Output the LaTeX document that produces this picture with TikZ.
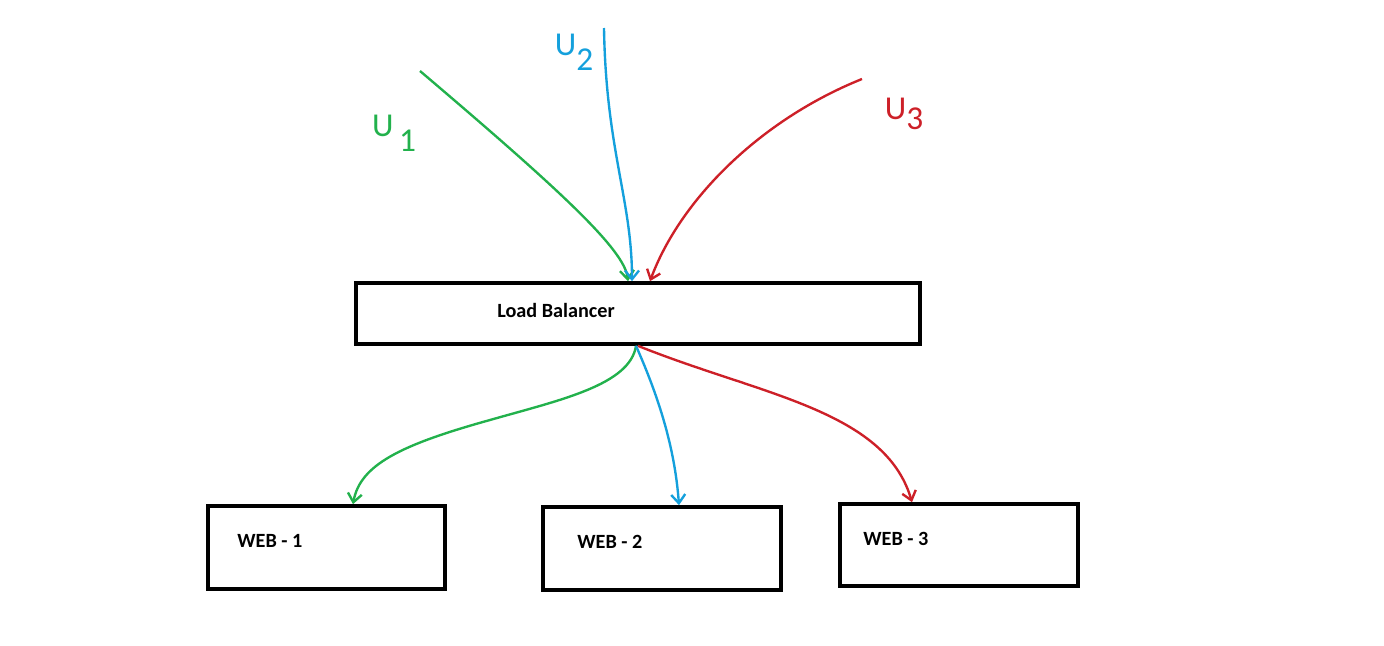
\documentclass[tikz,border=0pt]{standalone}
\usepackage{fontspec}
\setmainfont{Carlito}
\usetikzlibrary{arrows.meta, positioning}

\definecolor{paintgreen}{RGB}{34,177,76}
\definecolor{paintblue}{RGB}{20,160,220}
\definecolor{paintred}{RGB}{205,32,40}

\begin{document}
\begin{tikzpicture}[
    x=0.02cm, y=-0.02cm,
    box/.style={draw, rectangle, line width=2.1pt, inner sep=0pt},
    boxtext/.style={anchor=west, inner sep=0pt, font=\fontsize{11.5}{13}\selectfont\bfseries},
    user label/.style={inner sep=0pt, font=\fontsize{19}{21}\selectfont},
    flow/.style={line width=1.35pt, -{Straight Barb[length=5pt, width=8pt]}}
]
\useasboundingbox (0,0) rectangle (1384,646);

% Nodes
\node[box, minimum width=11.28cm, minimum height=1.22cm] (lb) at (638,313.5) {};
\node[boxtext] (lbtext) at (497,310) {Load Balancer};

\node[box, minimum width=4.74cm, minimum height=1.66cm] (web1) at (326.5,547.5) {};
\node[box, minimum width=4.76cm, minimum height=1.66cm] (web2) at (662,548.5) {};
\node[box, minimum width=4.76cm, minimum height=1.64cm] (web3) at (959,545) {};
\node[boxtext] (web1text) at (237,541) {WEB - 1};
\node[boxtext] (web2text) at (577,542) {WEB - 2};
\node[boxtext] (web3text) at (863,539) {WEB - 3};

% Users
\coordinate (u1) at (420,71);
\coordinate (u2) at (604,28);
\coordinate (u3) at (862,79);
\node[user label, text=paintgreen] (u1label) at (394,133) {U\,\raisebox{-0.45em}{1}};
\node[user label, text=paintblue] (u2label) at (574,52) {U\raisebox{-0.45em}{2}};
\node[user label, text=paintred] (u3label) at (904,114) {U\raisebox{-0.3em}{3}};

% Requests to the load balancer
\draw[flow, paintgreen] (u1) .. controls (560,190) and (625,250) .. ([xshift=-0.2cm]lb.north);
\draw[flow, paintblue] (u2) .. controls (606,150) and (632,200) .. ([xshift=-0.12cm]lb.north);
\draw[flow, paintred] (u3) .. controls (760,120) and (680,200) .. ([xshift=0.24cm]lb.north);

% Load balancer to the servers
\draw[flow, paintgreen] ([xshift=-0.04cm]lb.south) .. controls (630,385) and (560,400) .. (490,420)
    .. controls (400,445) and (360,465) .. ([xshift=0.53cm]web1.north);
\draw[flow, paintblue] ([xshift=-0.04cm]lb.south) .. controls (660,400) and (675,450) .. ([xshift=0.34cm]web2.north);
\draw[flow, paintred] ([xshift=0cm]lb.south) .. controls (760,395) and (885,410) .. ([xshift=-0.94cm]web3.north);

\end{tikzpicture}
\end{document}
